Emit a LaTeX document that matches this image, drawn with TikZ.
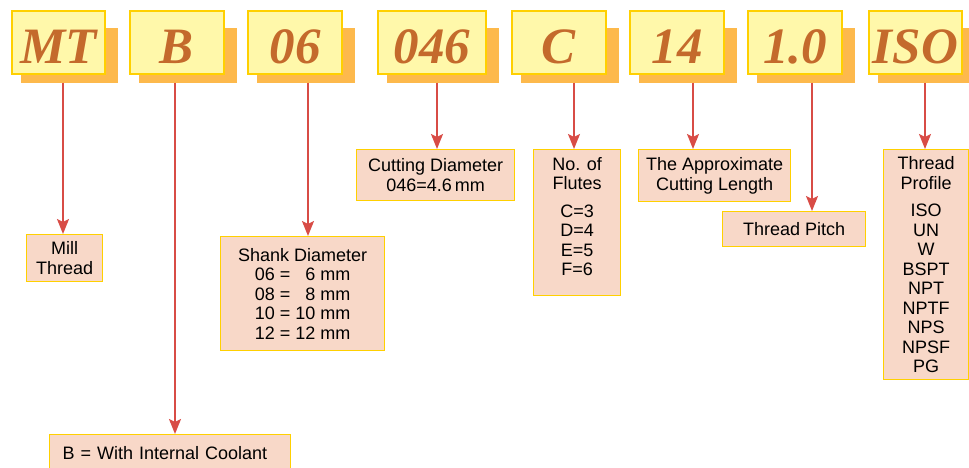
\documentclass[tikz,border=0pt]{standalone}
\usepackage{fontspec}
\setmainfont{Liberation Sans}
\newfontfamily\codefont{Liberation Serif}
\usepackage{tikz}
\usetikzlibrary{positioning,arrows.meta,backgrounds}
\definecolor{codefill}{RGB}{255,248,170}
\definecolor{gold}{RGB}{255,208,0}
\definecolor{shadowfill}{RGB}{253,185,76}
\definecolor{descfill}{RGB}{248,216,200}
\definecolor{codetext}{RGB}{196,106,44}
\definecolor{arrowred}{RGB}{216,76,70}

\begin{document}
\begin{tikzpicture}[
  x=1pt,y=-1pt,
  codebox/.style={draw=gold,fill=codefill,line width=1.3pt,minimum width=94pt,
                  minimum height=63pt,inner sep=0pt,text height=42pt,text depth=0pt,
                  text=codetext,font=\codefont\bfseries\itshape\fontsize{51}{51}\selectfont},
  descbox/.style={draw=gold,fill=descfill,line width=1.3pt,anchor=north west,
                  align=center,inner sep=0pt,font=\fontsize{18}{19.5}\selectfont},
  flow/.style={-{Stealth[length=15pt,width=12pt,inset=3pt]},draw=arrowred,line width=1.8pt}
]
\useasboundingbox (0,0) rectangle (969,468);
% code letters
\node[codebox,minimum width=93pt] (mt) at (58.5,42.5) {MT};
\node[codebox] (b) at (177,42.5) {B};
\node[codebox] (s06) at (295,42.5) {06};
\node[codebox,minimum width=108pt] (d046) at (432,42.5) {046};
\node[codebox] (c) at (559,42.5) {C};
\node[codebox] (l14) at (677,42.5) {14};
\node[codebox] (p10) at (795,42.5) {1.0};
\node[codebox,minimum width=93pt] (iso) at (915.5,42.5) {ISO};
\begin{scope}[on background layer]
  \foreach \n in {mt,b,s06,d046,c,l14,p10,iso}
    \fill[shadowfill] ([shift={(10,18)}]\n.north west) rectangle ([shift={(12,8)}]\n.south east);
\end{scope}
% meanings
\node[descbox,minimum width=76pt,minimum height=47pt] (mill) at (26,234) {Mill\\Thread};
\node[descbox,minimum width=164pt,minimum height=114pt] (shank) at (220,236)
  {Shank Diameter\\06 = \phantom{1}6 mm\\08 = \phantom{1}8 mm\\10 = 10 mm\\12 = 12 mm};
\node[descbox,text width=215pt,inner xsep=13pt,align=left,minimum height=36pt] (coolant) at (49,434)
  {B = With Internal Coolant};
\node[descbox,minimum width=158pt,minimum height=51pt] (cutdia) at (356,149)
  {Cutting Diameter\\046=4.6\,mm};
\node[descbox,minimum width=87pt,minimum height=146pt] (flutes) at (533,149)
  {No. of\\Flutes\\[8pt]C=3\\D=4\\E=5\\F=6\\[-7.5pt]\mbox{}};
\node[descbox,minimum width=152pt,minimum height=52pt] (length) at (638,149)
  {The Approximate\\Cutting Length};
\node[descbox,minimum width=143pt,minimum height=35pt] (pitch) at (722,211) {Thread Pitch};
\node[descbox,minimum width=85pt,minimum height=230pt] (profile) at (883,149)
  {Thread\\Profile\\[8pt]ISO\\UN\\W\\BSPT\\NPT\\NPTF\\NPS\\NPSF\\PG};
% connectors
\coordinate (mtout) at ([shift={(4.5,8)}]mt.south);
\coordinate (bout) at ([shift={(-2,8)}]b.south);
\coordinate (s06out) at ([shift={(13,8)}]s06.south);
\coordinate (d046out) at ([shift={(5,8)}]d046.south);
\coordinate (cout) at ([shift={(15,8)}]c.south);
\coordinate (l14out) at ([shift={(16,8)}]l14.south);
\coordinate (p10out) at ([shift={(17,8)}]p10.south);
\coordinate (isoout) at ([shift={(9.5,8)}]iso.south);
\draw[flow] (mtout) -- (mtout |- mill.north);
\draw[flow] (bout) -- (bout |- coolant.north);
\draw[flow] (s06out) -- (s06out |- shank.north);
\draw[flow] (d046out) -- (d046out |- cutdia.north);
\draw[flow] (cout) -- (cout |- flutes.north);
\draw[flow] (l14out) -- (l14out |- length.north);
\draw[flow] (p10out) -- (p10out |- pitch.north);
\draw[flow] (isoout) -- (isoout |- profile.north);
\end{tikzpicture}
\end{document}
